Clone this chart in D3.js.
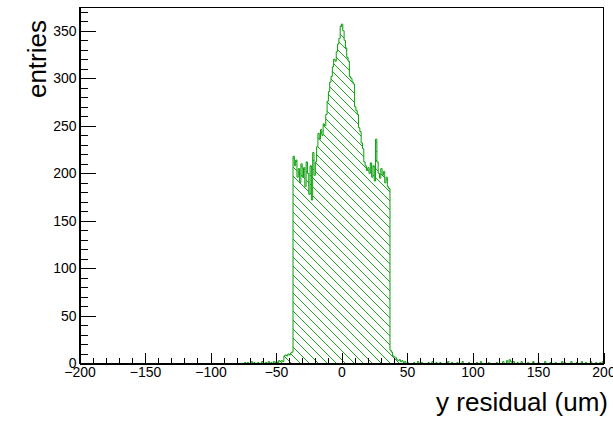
<!DOCTYPE html>
<html>
<head>
<meta charset="utf-8">
<script src="https://cdn.jsdelivr.net/npm/d3@7"></script>
<style>
  html, body { margin: 0; padding: 0; background: #fff; }
  svg { display: block; }
  text { font-family: "Liberation Sans", Arial, Helvetica, sans-serif; fill: #000; }
</style>
</head>
<body>
<svg id="chart" width="613" height="423"></svg>
<script>
// Histogram binning: 1 um wide bins over [-200, 200)
const binLow = -200;
const binHigh = 200;
const binWidth = 1;

// Central region: bins starting at coreStart, one count per bin
const coreStart = -50;
const coreCounts = [
  2, 0, 3, 2, 3, 2, 8, 9, 8, 10, 9, 11, 12,                    // -50 .. -38
  218, 208, 214, 196, 205, 190, 210, 196, 206, 186,            // -37 .. -28
  212, 200, 178, 208, 172, 222, 198, 212, 228, 242,            // -27 .. -18
  236, 246, 240, 252, 250, 262, 276, 286, 296, 302,            // -17 .. -8
  312, 320, 318, 328, 336, 342, 355, 357, 350, 340,            // -7 .. 2
  332, 322, 318, 302, 300, 296, 294, 270, 266, 262,            // 3 .. 12
  248, 244, 232, 226, 212, 208, 203, 206, 200, 211,            // 13 .. 22
  196, 208, 192, 236, 212, 200, 195, 205, 198, 202,            // 23 .. 32
  190, 196, 186, 184,                                          // 33 .. 36
  14, 12, 8, 7, 6, 4, 3, 4, 2, 3, 1, 2, 0, 1                   // 37 .. 50
];

// Sparse entries in the tails: bin low edge and count
const tailBins = [-74, -72, -69, -67, -64, -61, -58, -56, -54, -52, -51,
  55, 58, 61, 66, 69, 72, 75, 81, 84, 88, 92, 97, 103, 106, 112, 118, 123,
  126, 128, 129, 131, 134, 137, 142, 146, 150, 155, 159, 163, 168, 170, 175,
  179, 183, 186, 190, 194, 197, 199];
const tailCounts = [1, 1, 2, 1, 1, 2, 1, 2, 1, 2, 1,
  1, 2, 1, 1, 2, 1, 1, 2, 1, 1, 2, 1, 1, 2, 1, 1, 2,
  3, 4, 2, 2, 1, 2, 1, 2, 1, 2, 1, 1, 2, 1, 2,
  1, 2, 1, 2, 1, 1, 2];

// Axis ticks and titles
const xMajorTicks = [-200, -150, -100, -50, 0, 50, 100, 150, 200];
const yMajorTicks = [0, 50, 100, 150, 200, 250, 300, 350];
const xTitle = "y residual (um)";
const yTitle = "entries";
const yMax = 375;

// Assemble the full bin list
const nBins = Math.round((binHigh - binLow) / binWidth);
const counts = new Array(nBins).fill(0);
coreCounts.forEach((c, i) => { counts[coreStart - binLow + i] = c; });
tailBins.forEach((b, i) => { counts[b - binLow] = tailCounts[i]; });
const bins = counts.map((c, i) => ({ x0: binLow + i * binWidth, x1: binLow + (i + 1) * binWidth, n: c }));

const svg = d3.select("#chart");
const frame = { left: 79.5, right: 603.5, top: 7, bottom: 363.5 };

const x = d3.scaleLinear().domain([binLow, binHigh]).range([frame.left, frame.right]);
const y = d3.scaleLinear().domain([0, yMax]).range([frame.bottom, frame.top]);

// Hatch pattern for the histogram fill
const defs = svg.append("defs");
const hatch = 9;
defs.append("pattern")
  .attr("id", "hatch")
  .attr("patternUnits", "userSpaceOnUse")
  .attr("width", hatch).attr("height", hatch)
  .append("path")
  .attr("d", `M0,0 L${hatch},${hatch} M${-hatch / 2},${hatch / 2} L${hatch / 2},${hatch * 1.5} M${hatch / 2},${-hatch / 2} L${hatch * 1.5},${hatch / 2}`)
  .attr("stroke", "#1fa81f")
  .attr("stroke-width", 1);

// Step outline of the histogram
const pts = [[binLow, 0]];
bins.forEach(b => { pts.push([b.x0, b.n]); pts.push([b.x1, b.n]); });
pts.push([binHigh, 0]);
const line = d3.line().x(d => x(d[0])).y(d => y(d[1]));

svg.append("path")
  .attr("d", line(pts) + "Z")
  .attr("fill", "url(#hatch)")
  .attr("stroke", "none");

svg.append("path")
  .attr("d", line(pts))
  .attr("fill", "none")
  .attr("stroke", "#0a9e0a")
  .attr("stroke-width", 1);

// Frame
svg.append("rect")
  .attr("x", frame.left).attr("y", frame.top)
  .attr("width", frame.right - frame.left).attr("height", frame.bottom - frame.top)
  .attr("fill", "none").attr("stroke", "#000").attr("stroke-width", 1)
  .attr("shape-rendering", "crispEdges");

const fmt = d3.format("d");

// X axis: minor ticks every 10, major every 50, ticks pointing inward
const xMinor = d3.range(binLow, binHigh + 1, 10).filter(v => !xMajorTicks.includes(v));
svg.append("g")
  .attr("transform", `translate(0,${frame.bottom})`)
  .call(d3.axisBottom(x).tickValues(xMinor).tickSize(-5.5).tickFormat(""))
  .call(g => g.select(".domain").remove())
  .attr("shape-rendering", "crispEdges");
svg.append("g")
  .attr("transform", `translate(0,${frame.bottom})`)
  .call(d3.axisBottom(x).tickValues(xMajorTicks).tickSize(-11).tickSizeOuter(0).tickPadding(4).tickFormat(fmt))
  .call(g => g.select(".domain").attr("stroke", "#000"))
  .call(g => g.selectAll("line").attr("stroke", "#000"))
  .call(g => g.selectAll("text").attr("font-size", 14).attr("font-family", '"Liberation Sans", Arial, sans-serif'))
  .attr("shape-rendering", "crispEdges");

// Y axis
const yMinor = d3.range(0, yMax, 10).filter(v => !yMajorTicks.includes(v));
svg.append("g")
  .attr("transform", `translate(${frame.left},0)`)
  .call(d3.axisLeft(y).tickValues(yMinor).tickSize(-8).tickFormat(""))
  .call(g => g.select(".domain").remove())
  .attr("shape-rendering", "crispEdges");
svg.append("g")
  .attr("transform", `translate(${frame.left},0)`)
  .call(d3.axisLeft(y).tickValues(yMajorTicks).tickSize(-16).tickSizeOuter(0).tickPadding(3).tickFormat(fmt))
  .call(g => g.select(".domain").attr("stroke", "#000"))
  .call(g => g.selectAll("line").attr("stroke", "#000"))
  .call(g => g.selectAll("text").attr("font-size", 14).attr("font-family", '"Liberation Sans", Arial, sans-serif'))
  .attr("shape-rendering", "crispEdges");

// Axis titles
svg.append("text")
  .attr("x", 608).attr("y", 411)
  .attr("text-anchor", "end")
  .attr("font-size", 26)
  .text(xTitle);

svg.append("text")
  .attr("transform", "translate(46,20) rotate(-90)")
  .attr("text-anchor", "end")
  .attr("font-size", 26)
  .text(yTitle);
</script>
</body>
</html>
